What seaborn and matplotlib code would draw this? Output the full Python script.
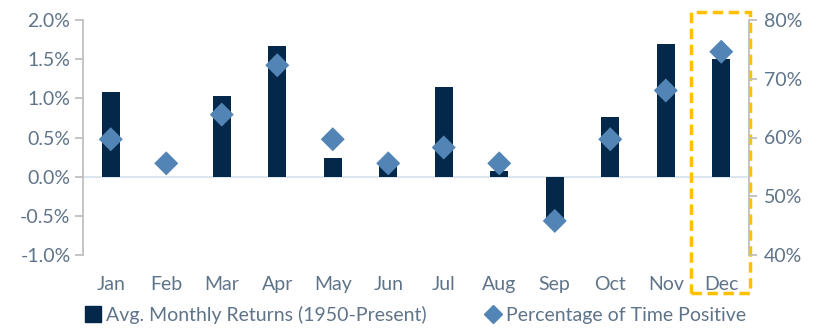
import matplotlib
matplotlib.use("Agg")
import matplotlib.pyplot as plt
import seaborn as sns
import pandas as pd
from matplotlib.patches import Rectangle
from matplotlib.lines import Line2D
from matplotlib.ticker import FuncFormatter

months = ["Jan", "Feb", "Mar", "Apr", "May", "Jun", "Jul", "Aug", "Sep", "Oct", "Nov", "Dec"]
avg_returns = [1.08, 0.0, 1.03, 1.67, 0.24, 0.14, 1.14, 0.07, -0.53, 0.76, 1.70, 1.50]
pct_positive = [59.7, 55.6, 63.9, 72.3, 59.7, 55.6, 58.3, 55.6, 45.8, 59.7, 68.0, 74.6]

df = pd.DataFrame({"month": months, "ret": avg_returns, "pos": pct_positive})

sns.set_theme(style="white")
plt.rcParams["font.family"] = ["Lato", "DejaVu Sans"]

navy = "#03284a"
steel = "#5285b6"
txt = "#5f7489"
spine_c = "#bfbfbf"
fs = 14

fig = plt.figure(figsize=(8.19, 3.30), dpi=100)
ax = fig.add_axes([83 / 819, 1 - 255 / 330, (749 - 83) / 819, (255 - 20) / 330])

sns.barplot(data=df, x="month", y="ret", color=navy, width=0.32, ax=ax,
            saturation=1, edgecolor="none")
ax.set_xlim(-0.5, 11.5)
ax.set_ylim(-1.0, 2.0)
ax.set_yticks([-1.0, -0.5, 0.0, 0.5, 1.0, 1.5, 2.0])
ax.yaxis.set_major_formatter(FuncFormatter(lambda v, p: f"{v:.1f}%"))
ax.axhline(0, color="#dce6ef", lw=1.5, zorder=0.5)
ax.set_xlabel("")
ax.set_ylabel("")

ax2 = ax.twinx()
sns.scatterplot(data=df, x="month", y="pos", marker="D", s=150, color=steel,
                edgecolor="none", ax=ax2, zorder=3)
ax2.set_ylim(40, 80)
ax2.set_yticks([40, 50, 60, 70, 80])
ax2.yaxis.set_major_formatter(FuncFormatter(lambda v, p: f"{v:.0f}%"))
ax2.set_ylabel("")
ax2.set_xlabel("")
ax2.set_xlim(-0.5, 11.5)

for a in (ax, ax2):
    for s in ("top", "bottom"):
        a.spines[s].set_visible(False)
ax.spines["right"].set_visible(False)
ax2.spines["left"].set_visible(False)
ax.spines["left"].set_color(spine_c)
ax.spines["left"].set_linewidth(1.3)
ax2.spines["right"].set_color(spine_c)
ax2.spines["right"].set_linewidth(1.3)

ax.tick_params(axis="y", left=True, length=6, width=1.3, color=spine_c,
               labelsize=fs, labelcolor=txt, pad=3)
ax.tick_params(axis="x", bottom=False, labelsize=fs, labelcolor=txt, pad=9)
ax2.tick_params(axis="y", right=True, length=6, width=1.3, color=spine_c,
                labelsize=fs, labelcolor=txt, pad=5)

# highlight box around December
rect = Rectangle((10.45, -1.485), 1.07, 3.59, transform=ax.transData, fill=False,
                 edgecolor="#ffc000", lw=2.5, ls=(0, (3, 1.6)), clip_on=False, zorder=5)
ax.add_patch(rect)

handles = [
    Line2D([], [], marker="s", ls="none", color=navy, markersize=11),
    Line2D([], [], marker="D", ls="none", color=steel, markersize=9),
]
labels = ["Avg. Monthly Returns (1950-Present)", "Percentage of Time Positive"]
fig.legend(handles, labels, loc="center", bbox_to_anchor=(0.507, 0.045), ncol=2,
           frameon=False, fontsize=fs, labelcolor=txt, handletextpad=0.2,
           columnspacing=3.0, handlelength=0.9)

fig.savefig("out.png", dpi=100)
